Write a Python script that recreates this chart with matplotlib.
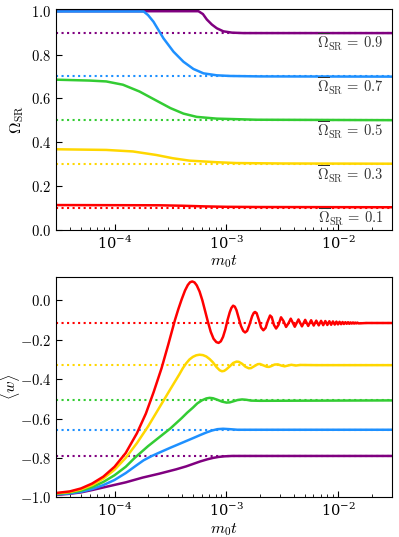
import matplotlib
matplotlib.use("Agg")
import matplotlib.pyplot as plt
import numpy as np
from matplotlib.ticker import FuncFormatter
from matplotlib.transforms import blended_transform_factory

plt.rcParams['mathtext.fontset'] = 'cm'
plt.rcParams['font.family'] = 'DejaVu Serif'

# colours of the five runs
colors = {'0.1': '#ff0000', '0.3': '#ffd700', '0.5': '#33cc33',
          '0.7': '#1e90ff', '0.9': '#800080'}

# ---- top panel: Omega_SR vs log10(m0 t) ----
om_red_x = [-4.52, -3.6, -3.4, -3.2, -3.0, -2.7, -1.52]
om_red_y = [0.112, 0.111, 0.109, 0.106, 0.104, 0.103, 0.102]

om_yel_x = [-4.52, -4.074, -3.836, -3.628, -3.479, -3.33, -3.092, -2.913, -2.5, -1.52]
om_yel_y = [0.367, 0.364, 0.357, 0.341, 0.326, 0.315, 0.308, 0.304, 0.302, 0.301]

om_grn_x = [-4.52, -4.223, -4.074, -3.925, -3.777, -3.628, -3.50, -3.384, -3.265, -3.086, -2.73, -1.52]
om_grn_y = [0.685, 0.681, 0.677, 0.662, 0.631, 0.59, 0.555, 0.530, 0.515, 0.507, 0.502, 0.500]

om_blu_x = [-4.52, -3.74, -3.70, -3.652, -3.5625, -3.473, -3.384, -3.295, -3.205, -3.086, -2.967, -2.7, -1.52]
om_blu_y = [0.997, 0.997, 0.98, 0.950, 0.874, 0.813, 0.767, 0.734, 0.714, 0.705, 0.702, 0.700, 0.699]

om_pur_x = [-4.52, -3.25, -3.21, -3.175, -3.13, -3.086, -3.027, -2.95, -2.85, -1.52]
om_pur_y = [0.998, 0.998, 0.985, 0.96, 0.937, 0.92, 0.906, 0.900, 0.898, 0.898]

om_bar = ['0.1', '0.3', '0.5', '0.7', '0.9']

# ---- bottom panel: <w> vs log10(m0 t) ----
w_red_x = [-4.52, -4.40, -4.30, -4.20, -4.10, -4.00, -3.90, -3.80, -3.72, -3.65, -3.58,
           -3.52, -3.46, -3.43, -3.40, -3.37, -3.345, -3.325, -3.305, -3.285, -3.265,
           -3.24, -3.215, -3.19, -3.165, -3.14, -3.115, -3.09, -3.07, -3.05, -3.03,
           -3.01, -2.99, -2.97, -2.955, -2.94, -2.925, -2.91, -2.89, -2.87, -2.85,
           -2.833, -2.815, -2.795, -2.77, -2.755, -2.744, -2.73, -2.71, -2.69, -2.67,
           -2.65, -2.63, -2.61, -2.595, -2.575, -2.556, -2.535, -2.512, -2.49, -2.467,
           -2.445, -2.425,
           -2.389, -2.356, -2.325, -2.296, -2.269, -2.243, -2.220, -2.197, -2.175,
           -2.154, -2.135, -2.116, -2.098, -2.080, -2.064, -2.048, -2.032, -2.017,
           -2.003, -1.989, -1.975, -1.962, -1.950, -1.937, -1.925, -1.913, -1.902,
           -1.891, -1.880, -1.869, -1.859, -1.849, -1.839, -1.829, -1.820, -1.75, -1.52]
w_red_y = [-0.978, -0.970, -0.955, -0.930, -0.895, -0.845, -0.775, -0.675, -0.575, -0.465,
           -0.345, -0.225, -0.100, -0.045, 0.005, 0.050, 0.078, 0.092, 0.096, 0.091, 0.076,
           0.045, 0.000, -0.055, -0.110, -0.160, -0.195, -0.212, -0.216, -0.208, -0.185,
           -0.148, -0.100, -0.060, -0.038, -0.027, -0.032, -0.050, -0.090, -0.130, -0.155,
           -0.163, -0.155, -0.125, -0.080, -0.063, -0.059, -0.065, -0.100, -0.138, -0.152,
           -0.140, -0.105, -0.077, -0.085, -0.125, -0.143, -0.125, -0.086, -0.105, -0.135,
           -0.116, -0.093,
           -0.134, -0.097, -0.132, -0.099, -0.130, -0.101, -0.128, -0.103, -0.127,
           -0.104, -0.126, -0.105, -0.125, -0.106, -0.124, -0.107, -0.123, -0.108,
           -0.122, -0.109, -0.121, -0.110, -0.120, -0.111, -0.119, -0.111, -0.119,
           -0.112, -0.118, -0.112, -0.118, -0.113, -0.117, -0.113, -0.117, -0.115, -0.115]

w_yel_x = [-4.52, -4.40, -4.30, -4.20, -4.10, -4.00, -3.90, -3.80, -3.70, -3.60, -3.50,
           -3.42, -3.39, -3.36, -3.33, -3.30, -3.27, -3.24, -3.21, -3.18, -3.15, -3.12,
           -3.09, -3.06, -3.04, -3.02, -3.00, -2.97, -2.94, -2.91, -2.89, -2.86, -2.83,
           -2.80, -2.78, -2.75, -2.72, -2.70, -2.67, -2.64, -2.62, -2.60, -2.57, -2.54,
           -2.51, -2.48, -2.45, -2.42, -2.38, -2.34, -2.2, -1.52]
w_yel_y = [-0.980, -0.973, -0.960, -0.938, -0.905, -0.860, -0.800, -0.725, -0.640, -0.545,
           -0.450, -0.375, -0.345, -0.320, -0.300, -0.287, -0.279, -0.276, -0.278, -0.285,
           -0.298, -0.315, -0.338, -0.355, -0.360, -0.358, -0.350, -0.335, -0.318, -0.311,
           -0.312, -0.322, -0.337, -0.345, -0.344, -0.334, -0.324, -0.323, -0.330, -0.337,
           -0.338, -0.334, -0.326, -0.325, -0.331, -0.335, -0.331, -0.327, -0.331, -0.328,
           -0.329, -0.329]

w_grn_x = [-4.52, -4.40, -4.30, -4.20, -4.10, -4.00, -3.90, -3.82, -3.70, -3.60, -3.50,
           -3.40, -3.35, -3.30, -3.26, -3.22, -3.18, -3.15, -3.12, -3.08, -3.04, -3.00,
           -2.97, -2.94, -2.90, -2.86, -2.82, -2.78, -2.70, -1.52]
w_grn_y = [-0.982, -0.976, -0.966, -0.948, -0.922, -0.888, -0.845, -0.800, -0.740, -0.695,
           -0.650, -0.598, -0.570, -0.545, -0.523, -0.508, -0.498, -0.495, -0.497, -0.505,
           -0.514, -0.519, -0.518, -0.513, -0.506, -0.503, -0.505, -0.509, -0.510, -0.508]

w_blu_x = [-4.52, -4.40, -4.30, -4.20, -4.10, -4.00, -3.90, -3.80, -3.74, -3.67, -3.60,
           -3.50, -3.40, -3.30, -3.235, -3.18, -3.13, -3.08, -3.03, -2.97, -2.90, -2.70, -1.52]
w_blu_y = [-0.985, -0.980, -0.972, -0.958, -0.938, -0.912, -0.877, -0.836, -0.812, -0.791,
           -0.773, -0.748, -0.724, -0.700, -0.684, -0.671, -0.661, -0.654, -0.652, -0.654,
           -0.657, -0.657, -0.657]

w_pur_x = [-4.52, -4.40, -4.30, -4.20, -4.10, -4.00, -3.90, -3.75, -3.60, -3.45, -3.36,
           -3.235, -3.17, -3.12, -3.07, -3.02, -2.95, -1.52]
w_pur_y = [-0.988, -0.982, -0.975, -0.963, -0.950, -0.937, -0.924, -0.900, -0.880, -0.858,
           -0.843, -0.818, -0.807, -0.800, -0.795, -0.792, -0.790, -0.790]

w_bar = [-0.115, -0.329, -0.508, -0.657, -0.791]

fig = plt.figure(figsize=(3.99, 5.37), dpi=100)
ax1 = fig.add_axes([0.1404, 0.5725, 0.8413, 0.4103])
ax2 = fig.add_axes([0.1404, 0.0739, 0.8413, 0.4108])

top = [(om_pur_x, om_pur_y, '0.9'), (om_blu_x, om_blu_y, '0.7'),
       (om_grn_x, om_grn_y, '0.5'), (om_yel_x, om_yel_y, '0.3'),
       (om_red_x, om_red_y, '0.1')]
for xs, ys, key in top:
    ax1.axhline(float(key), color=colors[key], ls=':', lw=1.5)
    ax1.plot(10 ** np.array(xs), ys, color=colors[key], lw=1.8)

tr = blended_transform_factory(ax1.transAxes, ax1.transData)
for key in om_bar:
    ax1.text(0.975, float(key) - 0.046,
             r'$\overline{\Omega}_{\rm SR}\,=\,' + key + '$',
             transform=tr, ha='right', va='center', fontsize=10.5, color='#333333')

bottom = [(w_pur_x, w_pur_y, '0.9', w_bar[4]), (w_blu_x, w_blu_y, '0.7', w_bar[3]),
          (w_grn_x, w_grn_y, '0.5', w_bar[2]), (w_yel_x, w_yel_y, '0.3', w_bar[1]),
          (w_red_x, w_red_y, '0.1', w_bar[0])]
for xs, ys, key, wb in bottom:
    ax2.axhline(wb, color=colors[key], ls=':', lw=1.5)
    ax2.plot(10 ** np.array(xs), ys, color=colors[key], lw=1.8)

fmt = FuncFormatter(lambda v, p: f'${v:.1f}$')
for ax in (ax1, ax2):
    ax.set_xscale('log')
    ax.set_xlim(3e-5, 3e-2)
    ax.tick_params(which='both', direction='in', labelsize=10.5)
    ax.tick_params(which='major', length=4)
    ax.tick_params(which='minor', length=2)
    ax.yaxis.set_major_formatter(fmt)
    ax.set_xlabel(r'$m_0t$', fontsize=11.5, labelpad=1)

ax1.set_ylim(0, 1.007)
ax1.set_yticks([0.0, 0.2, 0.4, 0.6, 0.8, 1.0])
ax1.set_ylabel(r'$\Omega_{\rm SR}$', fontsize=11.5)
ax1.yaxis.set_label_coords(-0.09, 0.5)

ax2.set_ylim(-1.0, 0.12)
ax2.set_yticks([-1.0, -0.8, -0.6, -0.4, -0.2, 0.0])
ax2.set_ylabel(r'$\langle w\rangle$', fontsize=11.5)
ax2.yaxis.set_label_coords(-0.102, 0.5)

fig.savefig('out.png', dpi=100)
